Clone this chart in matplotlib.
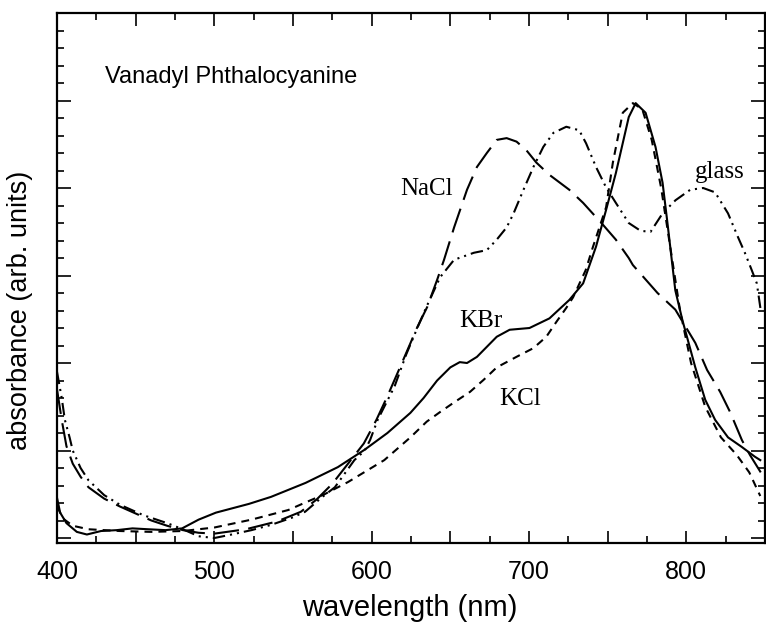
import numpy as np
import matplotlib
matplotlib.use("Agg")
import matplotlib.pyplot as plt
from matplotlib.ticker import MultipleLocator

# dane (nm, absorbancja w jednostkach umownych)
kbr_x = [400, 402, 406, 412.6, 419, 428, 438, 448, 458, 469, 479.5, 490, 501, 513.6, 522,
         536, 558, 578.5, 595.6, 610, 624.6, 633, 641.6, 650, 656, 660.6, 666.9, 679.5,
         687.7, 700.3, 713, 725.6, 734.4, 742.6, 749, 755.2, 763.4, 767.8, 774.1, 780.4,
         784.9, 788, 793, 797.5, 805.7, 812, 818.3, 826.5, 835.3, 843.5, 847]
kbr_y = [0.46, 0.29, 0.17, 0.07, 0.04, 0.08, 0.09, 0.11, 0.10, 0.09, 0.11, 0.21, 0.29, 0.35, 0.39,
         0.47, 0.63, 0.81, 1.01, 1.20, 1.43, 1.60, 1.80, 1.95, 2.01, 2.00, 2.07, 2.30,
         2.38, 2.40, 2.51, 2.72, 2.91, 3.33, 3.75, 4.17, 4.81, 4.97, 4.86, 4.47,
         4.06, 3.60, 2.83, 2.49, 1.95, 1.58, 1.35, 1.15, 1.04, 0.93, 0.89]

kcl_x = [400, 404, 410, 420, 440, 460, 480, 500, 523.6, 547, 554.6, 570, 585, 608, 624.6,
         635, 643.5, 652.4, 662.5, 671.3, 679.5, 692, 702.8, 711, 717.4, 723.7, 728, 736,
         740.7, 749, 753.3, 759.6, 766, 772, 778, 784, 790, 796, 803, 812, 822, 832, 840, 847]
kcl_y = [0.36, 0.22, 0.14, 0.10, 0.08, 0.07, 0.08, 0.12, 0.21, 0.32, 0.38, 0.50, 0.64, 0.89, 1.15,
         1.33, 1.44, 1.55, 1.67, 1.81, 1.95, 2.07, 2.17, 2.30, 2.47, 2.63, 2.75, 3.06,
         3.33, 3.78, 4.29, 4.86, 4.97, 4.90, 4.55, 4.00, 3.30, 2.60, 2.00, 1.50, 1.15, 0.95, 0.75, 0.48]

nacl_x = [400, 403, 406, 410, 415, 420, 430, 440, 450, 460, 470, 480, 490, 500, 520, 540, 555,
          565, 575, 585, 595, 603, 610, 618, 624, 629, 635.3, 641.6, 646, 652.4, 660.6, 666.9,
          673.2, 679.5, 685.8, 692.1, 698.4, 704.7, 713, 725.6, 734.4, 747, 755.2, 763.4, 766,
          781.7, 793, 805.7, 813.2, 821.5, 827.8, 835.3, 840.4, 847.3]
nacl_y = [1.70, 1.35, 1.05, 0.85, 0.70, 0.58, 0.45, 0.36, 0.28, 0.20, 0.14, 0.09, 0.06, 0.05, 0.10,
          0.19, 0.30, 0.44, 0.62, 0.85, 1.08, 1.35, 1.62, 1.95, 2.20, 2.41, 2.64, 2.95, 3.18,
          3.55, 3.98, 4.24, 4.40, 4.55, 4.57, 4.53, 4.43, 4.29, 4.15, 3.98, 3.83, 3.58, 3.41,
          3.20, 3.12, 2.80, 2.61, 2.23, 1.92, 1.67, 1.44, 1.12, 0.95, 0.75]

glass_x = [400, 403, 405, 408, 410, 415, 420, 430, 440, 455, 470, 480, 490, 500, 511, 523.6,
           536, 549, 557.7, 568, 576.6, 583, 589, 595.6, 599, 603.8, 608, 614.5, 622, 629,
           635.3, 643.5, 652.4, 665, 673.2, 679.5, 685.8, 690.2, 696.5, 702.8, 709.1, 715.5,
           723.7, 731.9, 736.3, 742.6, 748.9, 755.2, 763.4, 771, 777.3, 784.9, 793.1, 802.5,
           810.7, 818.3, 826.5, 832.8, 837.2, 841.6, 844.8, 847.3]
glass_y = [1.90, 1.60, 1.35, 1.15, 1.00, 0.80, 0.66, 0.49, 0.38, 0.26, 0.17, 0.10, 0.02, 0.00,
           0.04, 0.09, 0.15, 0.23, 0.30, 0.46, 0.58, 0.74, 0.89, 1.00, 1.12, 1.35, 1.50, 1.73,
           2.10, 2.40, 2.66, 2.98, 3.18, 3.26, 3.29, 3.41, 3.55, 3.71, 3.98, 4.24, 4.47, 4.63,
           4.70, 4.66, 4.51, 4.24, 4.01, 3.83, 3.60, 3.51, 3.50, 3.71, 3.86, 3.98,
           4.00, 3.95, 3.71, 3.44, 3.26, 3.06, 2.91, 2.60]

xticks = [400, 450, 500, 550, 600, 650, 700, 750, 800, 850]
xtick_labels = ["400", "", "500", "", "600", "", "700", "", "800", ""]

sans = ["Liberation Sans", "DejaVu Sans"]
serif = ["Liberation Serif", "DejaVu Serif"]

fig = plt.figure(figsize=(7.66, 6.27), dpi=100)
ax = fig.add_axes([57 / 766, 84 / 627, 708 / 766, 530 / 627])

lw = 1.5
ax.plot(kbr_x, kbr_y, color="black", lw=lw, linestyle="-")
ax.plot(kcl_x, kcl_y, color="black", lw=lw, linestyle=(0, (3.8, 2.9)))
ax.plot(nacl_x, nacl_y, color="black", lw=lw, linestyle=(0, (12, 4.5)))
ax.plot(glass_x, glass_y, color="black", lw=lw, linestyle=(0, (6, 2.4, 1, 2.4, 1, 2.4)))

ax.set_xlim(400, 846.7)
ax.set_ylim(-0.057, 6.0)

ax.set_xticks(xticks)
ax.set_xticklabels(xtick_labels, family=sans, fontsize=18)
ax.xaxis.set_minor_locator(MultipleLocator(25))
ax.yaxis.set_major_locator(MultipleLocator(1))
ax.yaxis.set_minor_locator(MultipleLocator(0.2))
ax.set_yticklabels([])
ax.tick_params(which="both", direction="in", top=True, right=True, width=1.2)
ax.tick_params(which="major", length=9, pad=12)
ax.tick_params(which="minor", length=5)
ax.tick_params(axis="y", which="major", length=10)
for s in ax.spines.values():
    s.set_linewidth(1.6)

# podpisy
ax.text(430.3, 5.2, "Vanadyl Phthalocyanine", family=sans, fontsize=17, va="baseline")
ax.text(618.3, 3.92, "NaCl", family=serif, fontsize=18, va="baseline")
ax.text(655.5, 2.41, "KBr", family=serif, fontsize=18, va="baseline")
ax.text(680.8, 1.52, "KCl", family=serif, fontsize=18, va="baseline")
ax.text(805.7, 4.11, "glass", family=serif, fontsize=18, va="baseline")

fig.text(410 / 766, 1 - 608 / 627, "wavelength (nm)", family=sans, fontsize=21,
         ha="center", va="center")
fig.text(20 / 766, 1 - 310 / 627, "absorbance (arb. units)", family=sans, fontsize=19.5,
         ha="center", va="center", rotation=90)

fig.savefig("out.png", dpi=100)
